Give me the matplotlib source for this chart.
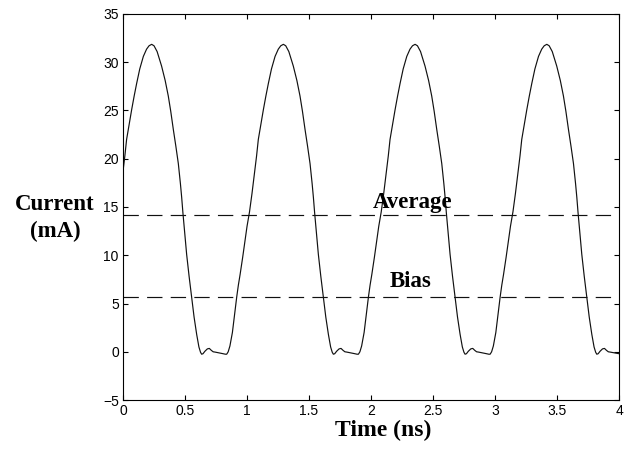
import matplotlib
matplotlib.use('Agg')
import matplotlib.pyplot as plt
import numpy as np

# 读取自原图的电流波形（时间 ns，电流 mA）
time_ns = [
    0.000, 0.015, 0.029, 0.050, 0.070, 0.090, 0.110, 0.135, 0.164, 0.190, 0.210, 0.231, 0.250, 0.275,
    0.311, 0.340, 0.365, 0.385, 0.406, 0.426, 0.446, 0.463, 0.473, 0.483, 0.497, 0.513, 0.533, 0.553,
    0.573, 0.594, 0.612, 0.625, 0.634, 0.645, 0.660, 0.680, 0.696, 0.712, 0.727, 0.742, 0.770, 0.800,
    0.825, 0.836, 0.848, 0.862, 0.882, 0.900, 0.917, 0.930, 0.944, 0.965, 0.985, 1.000, 1.020, 1.040,
    1.062, 1.077, 1.091, 1.112, 1.132, 1.152, 1.172, 1.197, 1.226, 1.252, 1.272, 1.293, 1.312, 1.337,
    1.373, 1.402, 1.427, 1.447, 1.468, 1.488, 1.508, 1.525, 1.535, 1.545, 1.559, 1.575, 1.595, 1.615,
    1.635, 1.656, 1.674, 1.687, 1.696, 1.707, 1.722, 1.742, 1.758, 1.774, 1.789, 1.804, 1.832, 1.862,
    1.887, 1.898, 1.910, 1.924, 1.944, 1.962, 1.979, 1.992, 2.006, 2.027, 2.047, 2.062, 2.082, 2.102,
    2.124, 2.139, 2.153, 2.174, 2.194, 2.214, 2.234, 2.259, 2.288, 2.314, 2.334, 2.355, 2.374, 2.399,
    2.435, 2.464, 2.489, 2.509, 2.530, 2.550, 2.570, 2.587, 2.597, 2.607, 2.621, 2.637, 2.657, 2.677,
    2.697, 2.718, 2.736, 2.749, 2.758, 2.769, 2.784, 2.804, 2.820, 2.836, 2.851, 2.866, 2.894, 2.924,
    2.949, 2.960, 2.972, 2.986, 3.006, 3.024, 3.041, 3.054, 3.068, 3.089, 3.109, 3.124, 3.144, 3.164,
    3.186, 3.201, 3.215, 3.236, 3.256, 3.276, 3.296, 3.321, 3.350, 3.376, 3.396, 3.417, 3.436, 3.461,
    3.497, 3.526, 3.551, 3.571, 3.592, 3.612, 3.632, 3.649, 3.659, 3.669, 3.683, 3.699, 3.719, 3.739,
    3.759, 3.780, 3.798, 3.811, 3.820, 3.831, 3.846, 3.866, 3.882, 3.898, 3.913, 3.928, 3.956, 3.986,
    4.000,
]
current_ma = [
    18.7, 20.3, 22.0, 23.6, 25.1, 26.5, 27.8, 29.3, 30.6, 31.35, 31.7, 31.85, 31.7, 31.1,
    29.6, 28.1, 26.5, 24.9, 23.0, 21.3, 19.5, 17.4, 16.0, 14.4, 12.4, 10.1, 7.8, 5.7,
    3.6, 1.8, 0.5, -0.05, -0.25, -0.2, 0.05, 0.3, 0.35, 0.15, 0.0, -0.03, -0.1, -0.18,
    -0.25, -0.25, 0.0, 0.6, 2.0, 3.9, 5.7, 6.9, 8.0, 9.8, 11.6, 13.0, 14.5, 16.4,
    18.7, 20.3, 22.0, 23.6, 25.1, 26.5, 27.8, 29.3, 30.6, 31.35, 31.7, 31.85, 31.7, 31.1,
    29.6, 28.1, 26.5, 24.9, 23.0, 21.3, 19.5, 17.4, 16.0, 14.4, 12.4, 10.1, 7.8, 5.7,
    3.6, 1.8, 0.5, -0.05, -0.25, -0.2, 0.05, 0.3, 0.35, 0.15, 0.0, -0.03, -0.1, -0.18,
    -0.25, -0.25, 0.0, 0.6, 2.0, 3.9, 5.7, 6.9, 8.0, 9.8, 11.6, 13.0, 14.5, 16.4,
    18.7, 20.3, 22.0, 23.6, 25.1, 26.5, 27.8, 29.3, 30.6, 31.35, 31.7, 31.85, 31.7, 31.1,
    29.6, 28.1, 26.5, 24.9, 23.0, 21.3, 19.5, 17.4, 16.0, 14.4, 12.4, 10.1, 7.8, 5.7,
    3.6, 1.8, 0.5, -0.05, -0.25, -0.2, 0.05, 0.3, 0.35, 0.15, 0.0, -0.03, -0.1, -0.18,
    -0.25, -0.25, 0.0, 0.6, 2.0, 3.9, 5.7, 6.9, 8.0, 9.8, 11.6, 13.0, 14.5, 16.4,
    18.7, 20.3, 22.0, 23.6, 25.1, 26.5, 27.8, 29.3, 30.6, 31.35, 31.7, 31.85, 31.7, 31.1,
    29.6, 28.1, 26.5, 24.9, 23.0, 21.3, 19.5, 17.4, 16.0, 14.4, 12.4, 10.1, 7.8, 5.7,
    3.6, 1.8, 0.5, -0.05, -0.25, -0.2, 0.05, 0.3, 0.35, 0.15, 0.0, -0.03, -0.1, -0.18,
    -0.2,
]

# 平均电流与偏置电流
average_ma = 14.2
bias_ma = 5.7

x_ticks = [0, 0.5, 1, 1.5, 2, 2.5, 3, 3.5, 4]
x_tick_labels = ['0', '0.5', '1', '1.5', '2', '2.5', '3', '3.5', '4']
y_ticks = [-5, 0, 5, 10, 15, 20, 25, 30, 35]
y_tick_labels = ['\u22125', '0', '5', '10', '15', '20', '25', '30', '35']

plt.rcParams['font.family'] = ['Liberation Sans', 'DejaVu Sans']
serif = ['Liberation Serif', 'DejaVu Serif']

fig = plt.figure(figsize=(6.26, 4.49), dpi=100, facecolor='white')
ax = fig.add_axes([0.1965, 0.109, 0.7925, 0.86])

ax.plot(time_ns, current_ma, color='#111111', linewidth=0.85)
ax.axhline(average_ma, color='#111111', linewidth=0.85, dashes=(13, 7))
ax.axhline(bias_ma, color='#111111', linewidth=0.85, dashes=(13, 7))

ax.set_xlim(0, 4)
ax.set_ylim(-5, 35)
ax.set_xticks(x_ticks)
ax.set_xticklabels(x_tick_labels)
ax.set_yticks(y_ticks)
ax.set_yticklabels(y_tick_labels)
ax.tick_params(direction='in', length=3.5, width=0.8, labelsize=10,
               top=True, right=True, pad=3)
for s in ax.spines.values():
    s.set_linewidth(0.8)

# 文字标注
ax.text(2.01, 14.9, 'Average', family=serif, fontweight='bold', fontsize=16.5,
        ha='left', va='baseline')
ax.text(2.15, 6.7, 'Bias', family=serif, fontweight='bold', fontsize=16.5,
        ha='left', va='baseline')

fig.text(55 / 626, 1 - 218 / 449, 'Current\n(mA)', family=serif, fontweight='bold',
         fontsize=16.5, ha='center', va='center', linespacing=1.35)
fig.text(383 / 626, 1 - 430 / 449, 'Time (ns)', family=serif, fontweight='bold',
         fontsize=17, ha='center', va='center')

plt.savefig('out.png', dpi=100, facecolor='white')
